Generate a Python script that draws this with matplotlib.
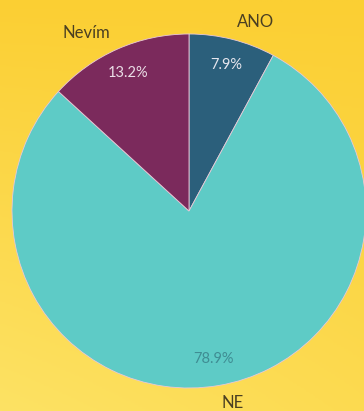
import numpy as np
import matplotlib
matplotlib.use("Agg")
import matplotlib.pyplot as plt
from matplotlib.colors import LinearSegmentedColormap

labels = ["ANO", "NE", "Nevím"]
values = [7.9, 78.9, 13.2]
colors = ["#2b5f7b", "#5ecbc6", "#7b2a5c"]
pct_colors = ["#e6e6ee", "#3f8d93", "#eadde6"]

W, H = 364, 411
CX, CY = 189, H - 211
fig = plt.figure(figsize=(W / 100, H / 100), dpi=100)

# background gradient
bg = fig.add_axes([0, 0, 1, 1])
bg.set_axis_off()
yy, xx = np.mgrid[0:1:200j, 0:1:200j]
grad = 0.6 * yy + 0.4 * (1 - xx) * yy
cmap = LinearSegmentedColormap.from_list("bg", ["#fbcf33", "#fde264"])
bg.imshow(grad, cmap=cmap, extent=[0, 1, 0, 1], aspect="auto", origin="upper")

ax = fig.add_axes([0, 0, 1, 1])
ax.patch.set_alpha(0)

wedges, texts, autotexts = ax.pie(
    values, labels=labels, colors=colors, startangle=90, counterclock=False,
    center=(CX, CY), radius=177, labeldistance=1.1, pctdistance=0.85,
    autopct="%.1f%%", wedgeprops=dict(edgecolor="#e8c8d8", linewidth=0.6),
    textprops=dict(family="Lato"), frame=True)
ax.set_xlim(0, W)
ax.set_ylim(0, H)
ax.set_aspect("equal")
ax.set_axis_off()
for t in texts:
    t.set_fontsize(12)
    t.set_color("#4a3f22")
    x, y = t.get_position()
    t.set_horizontalalignment("left" if x >= CX else "right")
for t, c in zip(autotexts, pct_colors):
    t.set_fontsize(10.5)
    t.set_color(c)

fig.savefig("out.png", dpi=100)
